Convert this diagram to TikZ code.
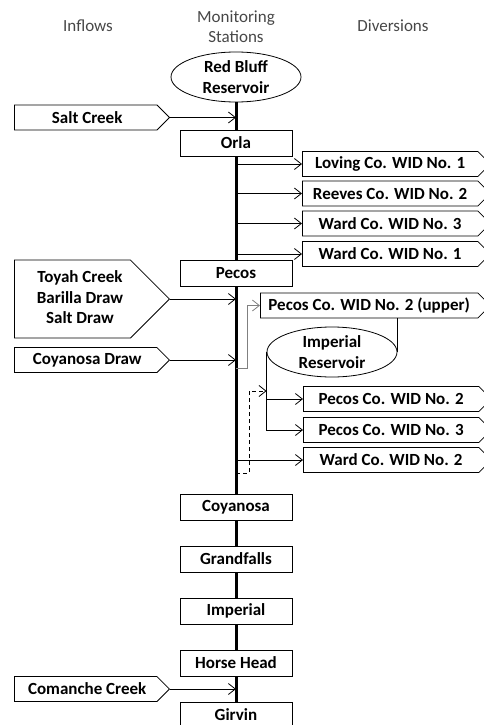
\documentclass[tikz,border=0pt]{standalone}
\usepackage{fontspec}
\setmainfont{Carlito}
\usetikzlibrary{
    arrows.meta,
    positioning,
    shapes.geometric,
    shapes.symbols
}

\begin{document}
\begin{tikzpicture}[
    x=1pt, y=-1pt,
    node distance=26pt,
    every node/.style={font=\fontsize{17}{20.5}\selectfont\bfseries},
    header/.style={font=\fontsize{17}{20}\selectfont, text=black!72, align=center},
    station/.style={rectangle, draw, line width=0.9pt, fill=white,
      minimum width=112pt, minimum height=26pt, inner sep=0pt, outer sep=0pt},
    reservoir/.style={ellipse, draw, line width=0.8pt, fill=white, align=center,
      minimum width=130pt, minimum height=50pt, inner sep=0pt},
    inflow/.style={signal, signal to=east, signal pointer angle=90, draw,
      line width=0.8pt, align=center, minimum width=155pt, minimum height=25pt},
    diversion/.style={signal, signal to=east, signal pointer angle=90, draw,
      line width=0.8pt, minimum width=188pt, minimum height=25pt},
    spine/.style={line width=3pt},
    arrow/.style={-{Straight Barb[length=7pt, width=11pt]}, line width=0.8pt}
]
\useasboundingbox (0,0) rectangle (484,725);

% column headers
\node[header] (hin) at (88,26) {Inflows};
\node[header] (hmon) at (236,27) {Monitoring\\Stations};
\node[header] (hdiv) at (393,26) {Diversions};

% monitoring stations
\node[reservoir] (redbluff) at (236,77) {Red Bluff\\Reservoir};
\node[station] (orla) at (236,143) {Orla};
\node[station, below=104pt of orla] (pecos) {Pecos};
\node[station, below=208pt of pecos] (coyanosa) {Coyanosa};
\node[station, below=of coyanosa] (grandfalls) {Grandfalls};
\node[station, below=of grandfalls] (imperial) {Imperial};
\node[station, below=of imperial] (horsehead) {Horse Head};
\node[station, below=of horsehead] (girvin) {Girvin};

% inflows
\node[inflow, anchor=east] (saltck) at (170,117.5) {\hspace*{3pt}Salt Creek};
\node[inflow, anchor=east, minimum height=78pt, align=none] (toyah) at (170,299)
  {\hspace*{15pt}\begin{tabular}{@{}c@{}}Toyah Creek\\Barilla Draw\\Salt Draw\end{tabular}};
\node[inflow, anchor=east] (coydraw) at (170,360) {\hspace*{3pt}Coyanosa Draw};
\node[inflow, anchor=east] (comanche) at (170,689) {\hspace*{3pt}Comanche Creek};

% diversions
\node[diversion, anchor=west] (loving) at (302,164) {Loving Co. WID No. 1};
\node[diversion, anchor=west] (reeves) at (302,193.5) {Reeves Co. WID No. 2};
\node[diversion, anchor=west] (wardiii) at (302,223.5) {Ward Co. WID No. 3};
\node[diversion, anchor=west] (wardi) at (302,254) {Ward Co. WID No. 1};
\node[diversion, anchor=west, minimum width=230pt] (pecosup) at (260,305.5)
  {Pecos Co. WID No. 2 (upper)};
\node[reservoir] (impres) at (332,352) {Imperial\\Reservoir};
\node[diversion, anchor=west] (pecosii) at (303,399) {Pecos Co. WID No. 2};
\node[diversion, anchor=west] (pecosiii) at (303,430) {Pecos Co. WID No. 3};
\node[diversion, anchor=west] (wardii) at (303,460) {Ward Co. WID No. 2};

\coordinate (upbend) at (247,368);
\coordinate (dashbend) at (249,473);
\path (impres.west) ++(0,39) coordinate (outlet);

% main stem
\draw[spine] (redbluff) -- (orla) -- (pecos) -- (coyanosa) -- (grandfalls)
  -- (imperial) -- (horsehead) -- (girvin);

% inflow arrows
\draw[arrow] (saltck.east) -- (saltck.east -| orla);
\draw[arrow] (toyah.east) -- (toyah.east -| pecos);
\draw[arrow] (coydraw.east) -- (coydraw.east -| pecos);
\draw[arrow] (comanche.east) -- (comanche.east -| girvin);

% diversion arrows
\draw[arrow] (loving.west -| orla) -- (loving.west);
\draw[arrow] (reeves.west -| orla) -- (reeves.west);
\draw[arrow] (wardiii.west -| orla) -- (wardiii.west);
\draw[arrow] (wardi.west -| orla) -- (wardi.west);
\draw[arrow, gray] (upbend -| pecos) -- (upbend) |- (pecosup.west);
\draw[line width=0.8pt] (pecosup.south -| impres.east) -- (impres.east);
\draw[arrow] (impres.west) |- (pecosiii.west);
\draw[arrow] (impres.west |- pecosii.west) -- (pecosii.west);
\draw[arrow] (wardii.west -| pecos) -- (wardii.west);
\draw[arrow, dash pattern=on 4pt off 3pt] (dashbend -| pecos) -- (dashbend) |- (outlet);
\end{tikzpicture}
\end{document}
